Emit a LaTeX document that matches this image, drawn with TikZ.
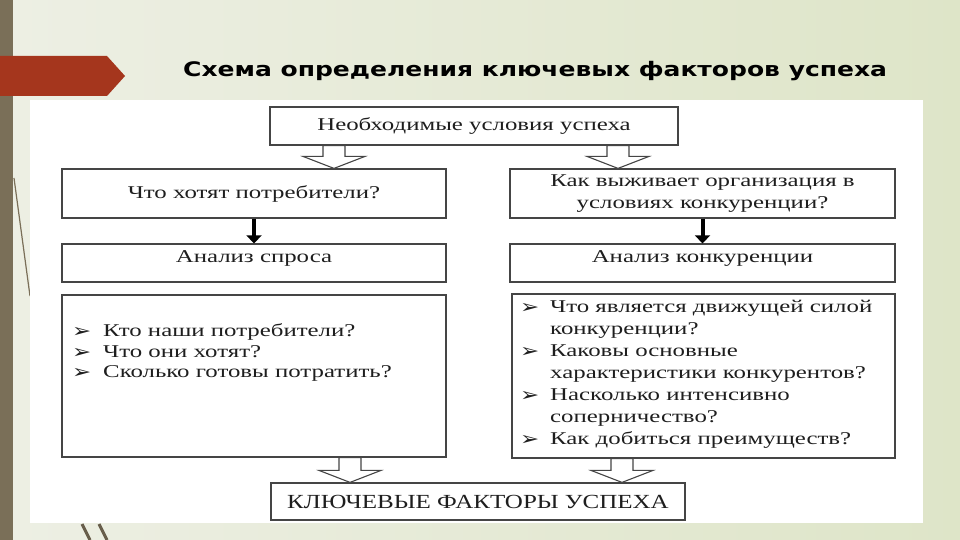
\documentclass[tikz,border=0pt]{standalone}
\usepackage{fontspec}
\setmainfont{Liberation Serif}[FakeStretch=1.38]
\newfontfamily\titlefont{DejaVu Sans}[FakeStretch=1.25]
\newfontfamily\capsfont{Liberation Serif}[FakeStretch=1.25]
\newfontfamily\symfont{DejaVu Sans}[FakeStretch=1.2]
\usetikzlibrary{arrows.meta,calc}
\definecolor{bgL}{HTML}{EDEFE4}
\definecolor{bgR}{HTML}{DEE5C8}
\definecolor{barc}{HTML}{7A6F58}
\definecolor{bannerc}{HTML}{A5361D}
\definecolor{linec}{HTML}{454545}
\definecolor{txtc}{HTML}{1E1E1E}
\newcommand\bul{{\symfont\fontsize{19}{19}\selectfont\raisebox{-1pt}{➢}}}
\tikzset{
  box/.style={draw=linec, line width=1.2pt, fill=white, inner sep=0pt, align=center,
    text=txtc, font=\fontsize{18}{22}\selectfont},
  listtext/.style={inner sep=0pt, text=txtc, font=\fontsize{18}{20.5}\selectfont},
  harrow/.style={draw=linec, line width=1.1pt, fill=white, line join=miter},
  barrow/.style={draw=black, line width=4pt, -{Triangle[length=8pt,width=15pt]}},
}
\newcommand\hollowarr[2]{%
  \draw[harrow] let \p1=#1, \p2=#2 in
    (\x1-11pt,\y1) -- (\x1+11pt,\y1) -- (\x1+11pt,\y2+12pt) -- (\x1+31pt,\y2+12pt)
    -- (\x1,\y2) -- (\x1-31pt,\y2+12pt) -- (\x1-11pt,\y2+12pt) -- cycle;}
\begin{document}
\begin{tikzpicture}[x=1pt,y=-1pt]
\useasboundingbox (0,0) rectangle (960,540);
% background
\shade[left color=bgL, right color=bgR] (0,0) rectangle (960,540);
\fill[barc] (0,0) rectangle (13,540);
\draw[barc, line width=1.2pt] (14,178) -- (30,296);
\draw[barc!85!black, line width=3pt] (82,524) -- (90,540);
\draw[barc!85!black, line width=3pt] (99,524) -- (107,540);
\fill[bannerc] (0,56) -- (107,56) -- (125,76) -- (107,96) -- (0,96) -- cycle;
\node[anchor=base west, inner sep=0pt, text=black, font=\titlefont\bfseries\fontsize{20}{22}\selectfont]
  (title) at (183,77) {Схема определения ключевых факторов успеха};
% panel
\fill[white] (30,100) rectangle (923,523);
% boxes
\node[box, minimum width=408pt, minimum height=38pt] (top) at (474,126) {Необходимые условия успеха};
\node[box, minimum width=384pt, minimum height=49pt] (q1) at (254,193.5) {Что хотят потребители?};
\node[box, minimum width=385pt, minimum height=49pt] (q2) at (702.5,193.5) {Как выживает организация в\\условиях конкуренции?};
\node[box, minimum width=384pt, minimum height=38pt, text depth=14pt, text height=12pt] (a1) at (254,263) {Анализ спроса};
\node[box, minimum width=385pt, minimum height=38pt, text depth=14pt, text height=12pt] (a2) at (702.5,263) {Анализ конкуренции};
\node[box, minimum width=384pt, minimum height=162pt] (l1) at (254,376) {};
\node[box, minimum width=383pt, minimum height=164pt] (l2) at (703.5,376) {};
\node[box, minimum width=414pt, minimum height=37pt, font=\capsfont\fontsize{20}{22}\selectfont] (kf) at (478,501.5) {КЛЮЧЕВЫЕ ФАКТОРЫ УСПЕХА};
% lists
\node[listtext, anchor=west] (l1t) at (72,353) {%
  \begin{tabular}{@{}p{31pt}@{}l@{}}
  \bul & Кто наши потребители?\\
  \bul & Что они хотят?\\
  \bul & Сколько готовы потратить?
  \end{tabular}};
\node[listtext, anchor=west, font=\fontsize{18}{22}\selectfont] (l2t) at (520,374.5) {%
  \begin{tabular}{@{}p{30pt}@{}l@{}}
  \bul & Что является движущей силой\\
       & конкуренции?\\
  \bul & Каковы основные\\
       & характеристики конкурентов?\\
  \bul & Насколько интенсивно\\
       & соперничество?\\
  \bul & Как добиться преимуществ?
  \end{tabular}};
% connectors
\hollowarr{(top.south -| 334,0)}{(q1.north -| 334,0)}
\hollowarr{(top.south -| 618,0)}{(q2.north -| 618,0)}
\hollowarr{(l1.south -| 350,0)}{(kf.north -| 350,0)}
\hollowarr{(l2.south -| 622,0)}{(kf.north -| 622,0)}
\draw[barrow] (q1.south) -- (a1.north);
\draw[barrow] (q2.south) -- (a2.north);
\end{tikzpicture}
\end{document}
